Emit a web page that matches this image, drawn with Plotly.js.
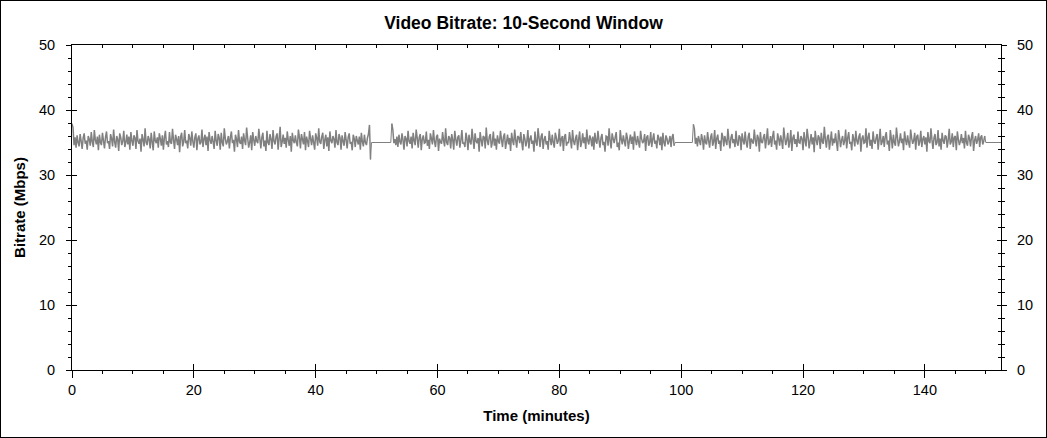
<!DOCTYPE html>
<html>
<head>
<meta charset="utf-8">
<script src="https://cdn.plot.ly/plotly-3.0.1.min.js"></script>
<style>
  html, body { margin: 0; padding: 0; background: #fff; }
  #wrap { position: relative; width: 1047px; height: 438px; }
  #chart { width: 1047px; height: 438px; }
  #frame { position: absolute; left: 0; top: 0; width: 1047px; height: 438px; box-sizing: border-box; border: 1px solid #000; pointer-events: none; }
</style>
</head>
<body>
<div id="wrap"><div id="chart"></div><div id="frame"></div></div>
<script>
// ---- data (minutes, Mbps) ----
const chartTitle = "Video Bitrate: 10-Second Window";
const xTitle = "Time (minutes)";
const yTitle = "Bitrate (Mbps)";
const sampleSeconds = 10;          // one value per 10 s
const seg1Start = 0.0;
const seg2Start = 52.5;
const seg3Start = 102.0;
const gapLevel = 35.0;             // flat bitrate between parts
const gap1Times = [49.17, 52.33];
const gap2Times = [99.0, 101.83];
const endTimes  = [150.0, 152.6];

const seg1Values = [
37.9,37.3,34.6,35.8,34.2,36.1,35.0,34.4,36.3,35.2,34.0,35.7,36.4,34.8,35.3,33.9,36.0,35.5,34.5,36.6,
35.1,34.3,36.9,35.4,34.7,35.9,33.8,36.2,35.0,34.6,36.5,35.3,34.1,35.8,36.7,34.9,35.2,34.0,36.3,35.6,
34.4,37.0,35.1,34.2,36.0,35.5,33.7,36.4,35.8,34.6,35.2,36.8,34.3,35.0,36.2,34.7,35.9,33.9,36.6,35.3,
34.5,36.1,35.7,34.0,36.9,35.2,34.8,35.6,33.6,36.3,35.4,34.4,37.2,35.0,34.6,36.0,35.5,34.1,36.5,35.1,
33.8,36.7,35.3,34.9,35.8,34.2,36.4,35.6,34.5,36.1,33.9,35.7,36.8,34.7,35.2,34.3,36.6,35.0,34.8,37.1,
35.4,34.0,36.2,35.5,34.6,36.0,33.5,35.9,36.5,34.4,35.1,36.9,34.9,35.3,34.1,36.3,35.7,34.5,36.7,35.2,
34.2,35.8,36.4,33.8,35.6,36.1,34.7,35.0,37.0,34.3,35.5,36.2,34.6,35.9,33.7,36.6,35.4,34.8,36.0,35.1,
34.0,36.8,35.3,34.5,36.3,35.7,33.9,36.5,35.0,34.4,37.2,35.6,34.7,35.2,36.0,34.1,35.8,36.7,34.9,35.4,
33.6,36.2,35.5,34.3,36.9,35.1,34.8,35.9,34.0,36.4,35.3,34.6,37.3,35.7,34.2,35.0,36.1,33.8,36.6,35.4,
34.5,36.0,35.2,34.9,37.1,35.6,34.1,35.8,36.5,34.4,35.3,33.7,36.8,35.0,34.6,36.3,35.5,34.0,36.9,35.2,
34.7,35.9,36.4,33.9,35.6,37.4,34.3,35.1,36.2,34.8,35.7,34.2,36.7,35.4,34.5,36.0,33.6,36.5,35.3,34.9,
36.1,35.0,34.4,37.0,35.8,34.1,36.3,35.5,34.7,36.6,33.8,35.9,35.2,34.3,36.8,35.6,34.6,36.1,35.0,33.9,
36.4,35.7,34.5,37.2,35.1,34.8,35.9,36.5,34.0,35.4,36.2,34.4,35.8,33.7,36.7,35.3,34.9,36.0,35.5,34.2,
36.9,35.0,34.6,36.3,35.7,33.9,36.1,35.2,34.5,36.6,35.4,34.1,35.8,36.4,34.8,35.1,33.8,36.2,35.6,34.3,
36.0,35.3,34.7,35.9,33.9,36.5,35.1,34.4,36.2,35.0,34.6,35.7,36.3,37.7,32.4
];

const seg2Values = [
37.9,37.0,34.9,35.5,34.6,35.9,34.3,36.2,35.1,34.7,36.4,35.4,33.9,36.0,35.6,34.4,36.8,35.2,34.8,35.9,
34.1,36.5,35.3,34.6,37.0,35.7,34.2,35.8,36.3,33.8,35.5,36.1,34.9,35.0,36.7,34.5,35.4,34.0,36.4,35.6,
34.7,36.9,35.2,34.3,35.9,36.2,33.7,35.6,35.1,34.8,36.6,35.3,34.4,37.2,35.0,34.6,36.0,35.7,34.1,36.3,
35.4,33.9,36.8,35.5,34.5,35.8,36.1,34.2,35.3,36.9,34.8,35.0,34.3,36.5,35.6,33.8,36.2,35.1,34.7,37.1,
35.5,34.0,36.4,35.2,34.9,35.7,33.6,36.6,35.4,34.4,36.0,35.8,34.1,37.3,35.3,34.6,35.9,36.3,34.2,35.0,
36.7,34.5,35.6,33.9,36.1,35.2,34.8,36.8,35.5,34.3,35.9,36.4,34.0,35.1,36.2,34.7,35.7,33.7,36.5,35.3,
34.6,37.0,35.4,34.2,36.0,35.8,34.9,36.6,35.0,33.8,36.3,35.6,34.4,35.2,36.9,34.1,35.5,36.1,34.8,35.3,
33.6,36.7,35.1,34.5,37.2,35.7,34.3,35.9,36.4,34.0,35.4,36.0,34.7,35.2,33.9,36.8,35.5,34.6,36.2,35.0,
34.2,36.5,35.8,34.8,35.3,37.1,34.4,35.6,36.0,33.7,35.9,36.3,34.5,35.1,34.9,36.6,35.4,34.1,36.9,35.2,
34.6,35.7,36.2,33.8,35.5,36.7,34.3,35.0,36.4,34.9,35.8,34.0,37.0,35.3,34.7,36.1,35.6,34.4,35.9,33.9,
36.5,35.2,34.8,36.8,35.4,34.2,35.7,36.3,34.6,35.1,33.6,36.0,35.9,34.5,37.2,35.3,34.1,36.4,35.6,34.9,
35.8,36.6,34.3,35.0,33.8,36.9,35.5,34.7,36.1,35.2,34.4,36.5,35.7,34.0,35.3,36.2,34.8,35.9,33.9,36.7,
35.4,34.6,36.0,35.1,34.2,36.8,35.6,34.9,35.2,36.3,33.7,35.8,36.1,34.5,35.0,36.6,34.3,35.5,36.4,34.8,
35.3,34.1,36.2,35.7,34.6,35.9,33.8,36.5,35.0,34.4,36.1,35.6,34.7,35.2,36.0,34.3,35.8,36.3,34.5
];

const seg3Values = [
37.8,37.1,34.8,35.7,34.4,36.0,35.2,34.6,36.3,35.5,33.9,36.1,35.0,34.7,36.6,35.3,34.2,35.8,36.4,34.5,
35.1,36.9,34.0,35.6,36.2,34.8,35.3,33.7,36.5,35.9,34.4,36.0,35.2,34.6,37.1,35.4,34.1,35.7,36.3,34.9,
35.5,34.3,36.8,35.0,34.5,36.1,35.8,33.8,36.4,35.3,34.7,36.7,35.1,34.2,35.9,36.5,34.0,35.6,35.2,34.8,
37.0,35.4,34.4,36.2,35.7,33.6,36.6,35.1,34.9,35.8,36.3,34.1,35.5,37.2,34.6,35.0,36.0,34.3,35.9,36.8,
34.7,35.3,33.9,36.4,35.6,34.5,36.1,35.2,34.0,37.3,35.8,34.6,35.4,36.5,34.2,35.1,36.9,33.7,35.7,36.2,
34.8,35.5,34.3,36.7,35.0,34.9,36.0,35.6,33.8,36.6,35.3,34.4,37.1,35.9,34.1,35.2,36.3,34.7,35.8,33.5,
36.8,35.4,34.6,36.1,35.7,34.0,36.5,35.1,34.8,37.4,35.5,34.2,35.9,36.2,33.9,35.3,36.7,34.5,35.6,34.9,
36.4,35.0,33.7,36.9,35.8,34.3,35.4,36.0,34.6,35.2,37.0,34.1,35.7,36.6,34.8,35.1,33.8,36.3,35.5,34.4,
36.8,35.3,34.7,35.9,36.4,33.6,35.6,36.1,34.9,35.0,37.2,34.2,35.8,36.5,34.5,35.4,34.0,36.7,35.2,34.8,
35.7,36.3,33.9,35.5,37.1,34.6,35.1,36.0,34.3,35.9,36.6,34.7,35.3,33.7,36.9,35.6,34.1,36.2,35.0,34.5,
37.3,35.8,34.4,35.2,36.4,34.9,35.6,33.8,36.7,35.4,34.6,36.1,35.0,34.2,37.0,35.7,34.8,35.3,36.5,33.9,
35.9,36.2,34.5,35.1,36.8,34.3,35.5,36.0,34.7,35.8,33.6,36.6,35.2,34.9,37.2,35.4,34.0,35.7,36.3,34.6,
35.0,36.9,34.4,35.6,33.9,36.5,35.3,34.8,36.1,35.9,34.2,35.4,37.1,34.7,35.1,36.4,34.3,35.8,36.0,33.8,
36.7,35.5,34.6,35.2,36.3,34.9,35.7,34.1,36.8,35.0,34.5,36.2,35.6,34.4,35.9,36.6,33.7,35.3,36.0,34.8,
35.4,36.4,34.3,35.8,36.1,34.7,35.2,36.0
];

// ---- build series ----
const sampleStep = sampleSeconds / 60;
const segs = [[seg1Start, seg1Values], [seg2Start, seg2Values], [seg3Start, seg3Values]];
const gaps = [gap1Times, gap2Times, endTimes];
const noiseX = [], noiseY = [], flatX = [], flatY = [];
segs.forEach(([start, vals], k) => {
  vals.forEach((v, i) => { noiseX.push(start + i * sampleStep); noiseY.push(v); });
  noiseX.push(null); noiseY.push(null);
  // flat connector from the end of this part to the start of the next
  const lastT = start + (vals.length - 1) * sampleStep;
  flatX.push(lastT); flatY.push(vals[vals.length - 1]);
  gaps[k].forEach(t => { flatX.push(t); flatY.push(gapLevel); });
  if (k + 1 < segs.length) { flatX.push(segs[k + 1][0]); flatY.push(segs[k + 1][1][0]); }
  flatX.push(null); flatY.push(null);
});

const xRange = [0, 152.5];
const yRange = [0, 50];
const FONT = "Liberation Sans, Arial, Helvetica, sans-serif";
const tickFont = { family: FONT, size: 14.5, color: '#000' };
const axTitleFont = { family: FONT, size: 15, color: '#000' };

function dummy(xa, ya) {
  return { x: [1], y: [1], xaxis: xa, yaxis: ya, mode: 'markers', marker: { opacity: 0 }, hoverinfo: 'skip', showlegend: false };
}

const traces = [
  { x: flatX, y: flatY, type: 'scatter', mode: 'lines', connectgaps: false, line: { color: '#808080', width: 1, simplify: false }, hoverinfo: 'skip', showlegend: false },
  { x: noiseX, y: noiseY, type: 'scatter', mode: 'lines', connectgaps: false, line: { color: '#808080', width: 1.5, simplify: false }, hoverinfo: 'skip', showlegend: false },
  dummy('x2', 'y2'), dummy('x3', 'y3'), dummy('x3', 'y4')
];

const common = { showgrid: false, zeroline: false, linecolor: '#000', linewidth: 1, tickcolor: '#000', tickwidth: 1, fixedrange: true };

const layout = {
  width: 1047, height: 438,
  margin: { l: 72, r: 46, t: 45, b: 68, pad: 0 },
  paper_bgcolor: '#fff', plot_bgcolor: '#fff',
  font: { family: FONT, size: 14, color: '#000' },
  title: { text: '<b>' + chartTitle + '</b>', font: { family: FONT, size: 17.5, color: '#000' }, x: 0.5, xref: 'container', y: 1 - 22.5 / 438, yref: 'container', yanchor: 'middle' },
  xaxis: Object.assign({}, common, {
    range: xRange, dtick: 20, tick0: 0, showline: true, ticks: 'outside', ticklen: 7,
    minor: { dtick: 5, tick0: 0, ticks: 'outside', ticklen: 3, tickcolor: '#000' },
    tickfont: tickFont,
    title: { text: '<b>' + xTitle + '</b>', font: axTitleFont, standoff: 13 }
  }),
  xaxis2: Object.assign({}, common, {
    range: xRange, dtick: 20, tick0: 0, overlaying: 'x', side: 'top', anchor: 'y', showline: true,
    ticks: 'inside', ticklen: 5, showticklabels: false,
    minor: { dtick: 5, tick0: 0, ticks: 'inside', ticklen: 3, tickcolor: '#000' }
  }),
  xaxis3: Object.assign({}, common, {
    range: xRange, dtick: 20, tick0: 0, overlaying: 'x', side: 'bottom', anchor: 'y', showline: false,
    ticks: 'inside', ticklen: 6, showticklabels: false
  }),
  yaxis: Object.assign({}, common, {
    range: yRange, dtick: 10, tick0: 0, showline: true, ticks: 'outside', ticklen: 5, ticklabelstandoff: 8,
    minor: { dtick: 2, tick0: 0, ticks: 'outside', ticklen: 3, tickcolor: '#000' },
    tickfont: tickFont,
    title: { text: '<b>' + yTitle + '</b>', font: axTitleFont, standoff: 9 }
  }),
  yaxis2: Object.assign({}, common, {
    range: yRange, dtick: 10, tick0: 0, overlaying: 'y', side: 'right', anchor: 'x', showline: true,
    ticks: 'outside', ticklen: 5, ticklabelstandoff: 7, tickfont: tickFont,
    minor: { dtick: 2, tick0: 0, ticks: 'outside', ticklen: 3, tickcolor: '#000' }
  }),
  yaxis3: Object.assign({}, common, {
    range: yRange, dtick: 10, tick0: 0, overlaying: 'y', side: 'left', anchor: 'x', showline: false,
    ticks: 'inside', ticklen: 5, showticklabels: false
  }),
  yaxis4: Object.assign({}, common, {
    range: yRange, dtick: 10, tick0: 0, overlaying: 'y', side: 'right', anchor: 'x', showline: false,
    ticks: 'inside', ticklen: 4, showticklabels: false,
    minor: { dtick: 2, tick0: 0, ticks: 'inside', ticklen: 3, tickcolor: '#000' }
  })
};

Plotly.newPlot('chart', traces, layout, { staticPlot: true, displayModeBar: false });
</script>
</body>
</html>
